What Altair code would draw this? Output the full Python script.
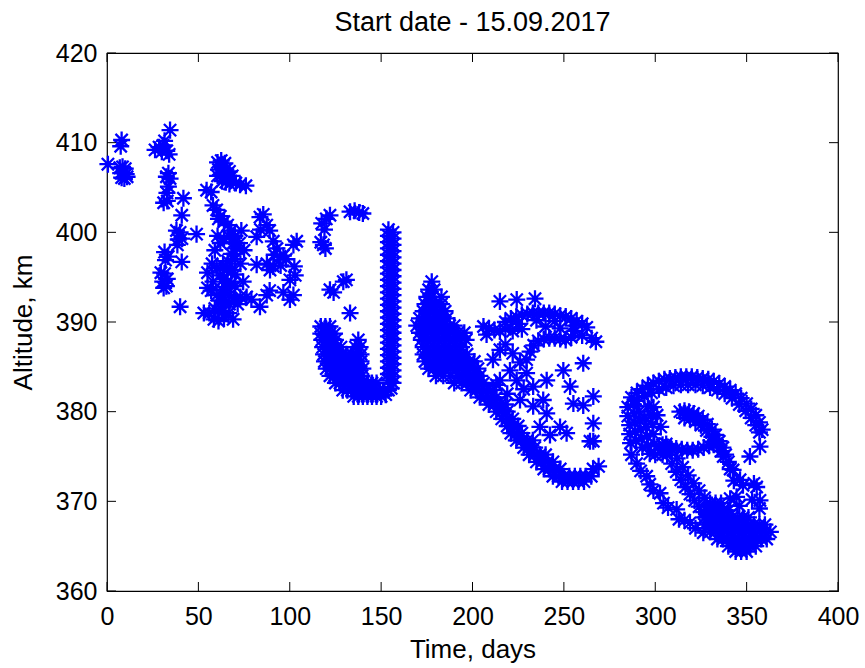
import altair as alt
import pandas as pd

# ---- data (time in days, altitude in km) ----
cluster_a = [(0.5, 407.6), (8.0, 410.3), (7.5, 409.6), (7.0, 407.2), (8.5, 407.3), (10.0, 407.1),
             (7.5, 406.6), (9.0, 406.6), (10.5, 406.5), (8.0, 406.1), (9.5, 406.0), (11.0, 406.2)]

cluster_b = [(34.5, 411.4), (26.3, 409.2), (28.5, 409.5), (30.7, 409.7), (32.7, 409.1), (30.0, 409.0),
             (34.0, 408.7), (31.5, 410.2), (33.6, 406.6), (34.5, 406.0), (32.5, 406.2), (33.6, 405.1),
             (32.8, 404.4), (31.0, 403.3), (33.0, 403.5), (41.8, 403.8), (40.9, 401.9), (38.0, 400.2),
             (40.0, 400.0), (39.0, 399.2), (41.0, 399.3), (38.5, 398.6), (49.0, 399.8), (31.5, 397.8),
             (33.5, 397.3), (32.0, 396.9), (40.9, 396.7), (29.5, 395.5), (31.5, 395.4), (33.0, 394.8),
             (30.5, 394.5), (32.5, 394.0), (31.0, 393.8), (40.0, 391.7)]

cluster_c = [(60.5, 407.8), (62.5, 408.0), (64.5, 407.7), (61.0, 407.0), (63.0, 407.2), (65.0, 407.0),
             (67.0, 406.8), (60.5, 406.3), (62.5, 406.4), (64.5, 406.3), (66.5, 406.1), (68.5, 406.3),
             (63.0, 405.7), (65.0, 405.6), (67.0, 405.4), (70.5, 405.5), (72.8, 405.3), (76.0, 405.2),
             (54.5, 404.7), (57.0, 404.5),
             (58.0, 403.0), (60.0, 402.5), (62.0, 401.8), (64.0, 401.2), (61.0, 401.5), (66.0, 400.8),
             (68.0, 400.2), (70.0, 399.6), (67.0, 399.5), (69.0, 398.8), (71.0, 398.2), (68.0, 397.6),
             (70.0, 397.0), (66.0, 396.8), (63.5, 396.3), (65.5, 395.8), (68.0, 395.8), (70.0, 395.3),
             (62.0, 395.2), (64.0, 394.8), (66.0, 394.5), (68.0, 394.3), (70.0, 394.0), (63.0, 393.6),
             (65.0, 393.3), (67.0, 393.0), (60.0, 393.0), (57.0, 393.5), (55.0, 393.8), (62.0, 392.4),
             (64.5, 392.2), (67.0, 392.0), (69.5, 392.4), (59.0, 391.5), (61.0, 391.2), (63.5, 391.2),
             (56.0, 391.0), (53.0, 391.0), (58.5, 390.3), (61.0, 390.1), (64.0, 390.5), (66.5, 391.0),
             (69.0, 390.3), (71.5, 392.0),
             (55.0, 395.5), (57.5, 396.5), (59.0, 398.0), (73.0, 396.5), (74.5, 394.5), (73.0, 392.8),
             (72.5, 398.8), (58.0, 394.5), (60.0, 396.0), (62.0, 398.8), (64.0, 399.3), (60.5, 399.6),
             (73.5, 400.2), (75.0, 398.0),
             (83.7, 401.7), (85.5, 402.0), (87.4, 400.8), (81.9, 399.5), (84.0, 400.3), (89.0, 400.2),
             (91.0, 399.0), (93.0, 398.2), (94.7, 397.3), (96.5, 397.4), (98.0, 397.0), (91.5, 397.5),
             (81.9, 396.4), (87.5, 396.5), (89.2, 395.8), (91.0, 396.2), (95.0, 396.3), (102.0, 398.6),
             (103.8, 399.0), (100.1, 394.7), (102.5, 396.2), (103.0, 395.2), (87.4, 393.0), (89.0, 393.5),
             (83.7, 391.7), (100.1, 392.5), (102.0, 393.0), (76.4, 392.8), (96.5, 393.3), (79.0, 392.5)]

cluster_d_top = [(117.5, 401.0), (119.0, 400.3), (122.0, 401.9), (120.0, 401.5), (118.4, 398.6), (117.0, 398.9),
                 (119.5, 398.2), (133.0, 402.3), (135.5, 402.4), (138.0, 402.2), (140.0, 402.1), (122.0, 393.6),
                 (124.0, 393.3), (129.3, 394.5), (131.0, 394.7), (133.0, 391.0)]

cluster_d_bulb = [(117.0, 389.5), (119.5, 389.5), (122.0, 389.5),
                  (117.0, 388.7), (119.5, 388.7), (122.0, 388.7), (124.5, 388.7),
                  (117.5, 388.0), (120.0, 388.0), (122.5, 388.0), (125.0, 388.0), (137.5, 388.0),
                  (118.0, 387.2), (120.5, 387.2), (123.0, 387.2), (125.5, 387.2), (128.0, 387.2), (136.0, 387.2), (138.5, 387.2),
                  (118.5, 386.4), (121.0, 386.4), (123.5, 386.4), (126.0, 386.4), (128.5, 386.4), (131.0, 386.4),
                  (134.0, 386.4), (136.5, 386.4), (139.0, 386.4),
                  (119.0, 385.6), (121.5, 385.6), (124.0, 385.6), (126.5, 385.6), (129.0, 385.6), (131.5, 385.6),
                  (134.0, 385.6), (136.5, 385.6), (139.0, 385.6),
                  (120.0, 384.8), (122.5, 384.8), (125.0, 384.8), (127.5, 384.8), (130.0, 384.8), (132.5, 384.8),
                  (135.0, 384.8), (137.5, 384.8), (140.0, 384.8),
                  (122.0, 384.0), (124.5, 384.0), (127.0, 384.0), (129.5, 384.0), (132.0, 384.0), (134.5, 384.0),
                  (137.0, 384.0), (139.5, 384.0),
                  (125.0, 383.2), (127.5, 383.2), (130.0, 383.2), (132.5, 383.2), (135.0, 383.2), (137.5, 383.2),
                  (140.0, 383.2), (142.5, 383.2), (145.0, 383.2), (147.5, 383.2),
                  (129.0, 382.4), (131.5, 382.4), (134.0, 382.4), (136.5, 382.4), (139.0, 382.4), (141.5, 382.4),
                  (144.0, 382.4), (146.5, 382.4), (149.0, 382.4), (151.5, 382.4), (154.0, 382.4),
                  (135.0, 381.7), (137.5, 381.7), (140.0, 381.7), (142.5, 381.7), (145.0, 381.7), (147.5, 381.7),
                  (150.0, 381.7), (152.5, 381.9)]

column_d = [(154.0, 400.3), (156.5, 400.0), (154.0, 399.6), (156.5, 399.3), (154.0, 398.9), (156.5, 398.6),
            (154.0, 398.2), (156.5, 397.9), (154.0, 397.5), (156.5, 397.2), (154.0, 396.8), (156.5, 396.5),
            (154.0, 396.1), (156.5, 395.8), (154.0, 395.4), (156.5, 395.1), (154.0, 394.7), (156.5, 394.4),
            (154.0, 394.0), (156.5, 393.7), (154.0, 393.3), (156.5, 393.0), (154.0, 392.6), (156.5, 392.3),
            (154.0, 391.9), (156.5, 391.6), (154.0, 391.2), (156.5, 390.9), (154.0, 390.5), (156.5, 390.2),
            (154.0, 389.8), (156.5, 389.5), (154.0, 389.1), (156.5, 388.8), (154.0, 388.4), (156.5, 388.1),
            (154.0, 387.7), (156.5, 387.4), (154.0, 387.0), (156.5, 386.7), (154.0, 386.3), (156.5, 386.0),
            (154.0, 385.6), (156.5, 385.3), (154.0, 384.9), (156.5, 384.6), (154.0, 384.2), (156.5, 383.9),
            (154.0, 383.5), (156.5, 383.2), (155.5, 382.6)]

cluster_e_blob = [(177.7, 394.5), (176.0, 393.6), (179.0, 393.6), (175.0, 392.8), (178.0, 392.8), (183.0, 392.8),
                  (174.0, 392.0), (177.0, 392.0), (180.0, 392.0), (183.0, 392.0),
                  (173.0, 391.2), (176.0, 391.2), (179.0, 391.2), (182.0, 391.2), (185.0, 391.2),
                  (171.0, 390.4), (174.0, 390.4), (177.0, 390.4), (180.0, 390.4), (183.0, 390.4), (186.0, 390.4),
                  (169.5, 389.6), (172.5, 389.6), (175.5, 389.6), (178.5, 389.6), (181.5, 389.6), (184.5, 389.6),
                  (187.5, 389.6), (190.0, 389.6),
                  (171.0, 388.8), (174.0, 388.8), (177.0, 388.8), (180.0, 388.8), (183.0, 388.8), (186.0, 388.8),
                  (189.0, 388.8), (192.0, 388.8), (195.5, 388.8),
                  (172.0, 388.0), (175.0, 388.0), (178.0, 388.0), (181.0, 388.0), (184.0, 388.0), (187.0, 388.0),
                  (190.0, 388.0), (193.0, 388.0), (196.5, 388.0),
                  (173.0, 387.2), (176.0, 387.2), (179.0, 387.2), (182.0, 387.2), (185.0, 387.2), (188.0, 387.2),
                  (191.0, 387.2), (194.0, 387.2),
                  (173.0, 386.4), (176.0, 386.4), (179.0, 386.4), (182.0, 386.4), (185.0, 386.4), (188.0, 386.4),
                  (191.0, 386.4), (194.0, 386.4), (197.0, 386.4),
                  (174.0, 385.6), (177.0, 385.6), (180.0, 385.6), (183.0, 385.6), (186.0, 385.6), (189.0, 385.6),
                  (192.0, 385.6), (195.0, 385.6), (198.0, 385.6), (201.0, 385.6),
                  (176.0, 384.8), (179.0, 384.8), (182.0, 384.8), (185.0, 384.8), (188.0, 384.8), (191.0, 384.8),
                  (194.0, 384.8), (197.0, 384.8), (200.0, 384.8), (203.0, 384.8),
                  (180.0, 384.0), (184.0, 384.0), (188.0, 384.0), (192.0, 384.0), (195.0, 384.0), (198.0, 384.0),
                  (201.0, 384.0), (204.0, 384.0),
                  (190.0, 383.2), (194.0, 383.2), (197.0, 383.2), (200.0, 383.2), (203.0, 383.2), (206.0, 383.2)]

cluster_e_band = [(199.0, 382.4), (202.0, 382.4), (205.0, 382.4), (208.0, 382.4), (211.0, 382.4),
                  (204.0, 381.6), (207.0, 381.6), (210.0, 381.6), (213.0, 381.6),
                  (209.0, 380.8), (212.0, 380.8), (215.0, 380.8), (218.0, 380.8),
                  (213.0, 380.0), (216.0, 380.0), (219.0, 380.0),
                  (216.0, 379.2), (219.0, 379.2), (222.0, 379.2),
                  (219.0, 378.4), (222.0, 378.4), (225.0, 378.4),
                  (221.0, 377.6), (224.0, 377.6), (227.0, 377.6),
                  (224.0, 376.8), (227.0, 376.8), (230.0, 376.8), (233.0, 376.8),
                  (228.0, 376.0), (231.0, 376.0), (234.0, 376.0),
                  (231.0, 375.2), (234.0, 375.2), (237.0, 375.2), (240.0, 375.2),
                  (235.0, 374.4), (238.0, 374.4), (241.0, 374.4), (244.0, 374.4),
                  (239.0, 373.6), (242.0, 373.6), (245.0, 373.6), (248.0, 373.6), (266.0, 373.6), (269.0, 373.9),
                  (244.0, 372.8), (247.0, 372.8), (250.0, 372.8), (253.0, 372.8), (256.0, 372.8), (259.0, 372.8),
                  (262.0, 372.8), (265.0, 372.8),
                  (249.0, 372.2), (252.0, 372.2), (255.0, 372.2), (258.0, 372.2), (261.0, 372.2)]

cluster_e_loop = [(215.0, 392.3), (224.2, 392.5), (234.2, 392.6),
                  (218.0, 390.0), (221.0, 390.4), (224.0, 390.6), (227.0, 390.8), (230.0, 390.9), (233.0, 391.0),
                  (236.0, 391.0), (239.0, 391.0), (242.0, 391.0), (245.0, 390.9), (248.0, 390.7), (251.0, 390.6),
                  (254.0, 390.4), (257.0, 390.1), (260.0, 389.8), (262.5, 389.4), (225.0, 389.8), (235.0, 390.2),
                  (245.0, 390.1), (255.0, 389.6),
                  (206.0, 389.5), (209.0, 389.3), (212.0, 389.1), (215.0, 389.0), (218.0, 389.2), (207.7, 388.6),
                  (265.2, 388.2), (267.5, 387.8),
                  (222.0, 389.0), (227.0, 389.2), (240.0, 389.5), (248.0, 389.3), (256.0, 389.0), (260.0, 388.5),
                  (229.6, 385.8), (231.5, 386.7), (233.5, 387.4), (236.0, 387.9), (239.0, 388.1), (242.0, 388.2),
                  (245.0, 388.2), (248.0, 388.1), (251.0, 388.0), (254.0, 388.3),
                  (215.0, 386.9), (211.2, 385.8), (220.5, 384.6), (215.0, 383.5), (224.2, 383.5), (229.6, 384.3),
                  (218.0, 387.5), (222.0, 386.5), (226.0, 385.5), (213.0, 383.0), (219.0, 382.0), (228.0, 382.5),
                  (233.2, 382.8), (226.0, 381.3), (233.2, 380.6), (238.7, 381.3), (240.6, 379.8), (236.9, 378.3),
                  (260.6, 385.4), (249.7, 384.6), (240.6, 383.5), (253.4, 382.8), (266.1, 381.7), (255.2, 380.9),
                  (266.1, 378.7), (251.5, 377.6), (242.4, 377.4), (264.3, 376.7), (260.6, 380.7), (247.9, 378.3),
                  (266.1, 376.7)]

cluster_f_arc = [(287.0, 381.6), (290.0, 382.1), (293.0, 382.5), (296.0, 382.9), (299.0, 383.2), (302.0, 383.4),
                 (305.0, 383.6), (308.0, 383.7), (311.0, 383.8), (314.0, 383.9), (317.0, 383.9), (320.0, 383.9),
                 (323.0, 383.8), (326.0, 383.7), (329.0, 383.6), (332.0, 383.4), (335.0, 383.1), (338.0, 382.8),
                 (341.0, 382.4), (344.0, 382.0), (347.0, 381.5), (350.0, 380.9), (352.5, 380.3), (355.0, 379.6),
                 (357.0, 378.8), (358.5, 378.0),
                 (290.0, 381.2), (294.0, 381.7), (298.0, 382.1), (302.0, 382.5), (306.0, 382.7), (310.0, 382.9),
                 (314.0, 383.0), (318.0, 383.0), (322.0, 383.0), (326.0, 382.9), (330.0, 382.7), (334.0, 382.4),
                 (338.0, 382.0), (342.0, 381.5), (346.0, 380.8), (349.5, 380.1), (352.5, 379.3), (355.0, 378.5),
                 (357.0, 377.7)]

cluster_f_left = [(285.0, 380.5), (285.0, 379.5), (286.0, 378.5), (286.0, 377.5), (286.5, 376.5), (288.0, 380.8),
                  (288.5, 379.8), (289.0, 378.8), (289.0, 377.8), (289.5, 376.8), (291.0, 380.0), (291.5, 379.0),
                  (292.0, 378.0), (292.5, 377.0), (293.0, 376.0), (294.0, 379.3), (295.0, 378.3), (295.5, 377.3),
                  (296.0, 376.2), (297.0, 375.3), (297.5, 379.7), (298.5, 378.6), (299.0, 377.5), (299.5, 376.4),
                  (300.0, 375.2), (302.0, 376.2), (304.0, 375.2), (306.0, 376.4), (303.0, 378.3), (301.0, 379.6),
                  (299.0, 380.5), (296.0, 380.6)]

cluster_f_inner = [(313.5, 380.0), (316.0, 380.1), (318.5, 380.0), (321.0, 379.8), (323.5, 379.5), (326.0, 379.1),
                   (328.5, 378.6), (331.0, 378.0), (333.0, 377.4), (335.0, 376.7), (337.0, 376.0), (338.5, 375.2),
                   (340.0, 374.4), (341.0, 373.6), (316.0, 379.3), (319.0, 379.2), (322.0, 378.9), (325.0, 378.5),
                   (328.0, 377.9), (331.0, 377.2), (333.5, 376.4), (336.0, 375.6),
                   (305.5, 376.0), (308.5, 375.9), (311.5, 375.9), (314.5, 375.8), (317.5, 375.7), (320.5, 375.7),
                   (323.5, 375.8), (326.5, 376.0), (329.5, 376.2), (332.0, 376.3),
                   (304.0, 376.3), (306.5, 375.2), (309.0, 374.2), (311.5, 373.3), (314.0, 372.4), (316.5, 371.6),
                   (319.0, 370.8), (321.5, 370.1), (324.0, 369.4), (326.5, 368.8), (329.0, 368.2),
                   (309.0, 375.8), (312.0, 374.8), (315.0, 373.8), (318.0, 372.9), (321.0, 372.0), (324.0, 371.2),
                   (327.0, 370.4), (330.0, 369.6)]

cluster_f_dots = [(287.0, 375.2), (289.8, 374.2), (292.0, 373.4), (295.3, 372.8), (297.0, 371.9), (299.0, 371.2),
                  (302.6, 370.9), (304.5, 369.8), (307.0, 369.3), (311.7, 369.1), (313.0, 368.0), (316.0, 367.9),
                  (319.0, 367.6), (322.0, 367.0), (326.3, 366.5)]

cluster_f_bottom = [(330.0, 369.8), (333.0, 369.8), (336.0, 369.8),
                    (328.0, 369.0), (331.0, 369.0), (334.0, 369.0), (337.0, 369.0), (340.0, 369.0),
                    (327.0, 368.2), (330.0, 368.2), (333.0, 368.2), (336.0, 368.2), (339.0, 368.2), (342.0, 368.2),
                    (345.0, 368.2), (348.0, 368.2), (351.0, 368.2),
                    (327.0, 367.4), (330.0, 367.4), (333.0, 367.4), (336.0, 367.4), (339.0, 367.4), (342.0, 367.4),
                    (345.0, 367.4), (348.0, 367.4), (351.0, 367.4), (354.0, 367.4), (357.0, 367.4), (360.0, 367.4),
                    (330.0, 366.6), (333.0, 366.6), (336.0, 366.6), (339.0, 366.6), (342.0, 366.6), (345.0, 366.6),
                    (348.0, 366.6), (351.0, 366.6), (354.0, 366.6), (357.0, 366.6), (360.0, 366.6), (363.0, 366.6),
                    (334.0, 365.8), (337.0, 365.8), (340.0, 365.8), (343.0, 365.8), (346.0, 365.8), (349.0, 365.8),
                    (352.0, 365.8), (355.0, 365.8), (358.0, 365.8), (361.0, 365.8),
                    (340.0, 365.0), (343.0, 365.0), (346.0, 365.0), (349.0, 365.0), (352.0, 365.0), (355.0, 365.0),
                    (344.0, 364.4), (347.0, 364.4), (350.0, 364.4)]

cluster_f_right = [(357.3, 376.1), (351.8, 375.0), (346.4, 372.4), (355.5, 371.6), (344.5, 370.5), (357.3, 370.1),
                   (342.6, 373.5), (337.2, 375.0), (343.0, 372.3), (348.0, 371.8), (354.0, 372.0), (341.0, 370.3),
                   (346.0, 369.5), (353.0, 370.2), (357.0, 369.2)]

x_ticks = [0, 50, 100, 150, 200, 250, 300, 350, 400]
y_ticks = [360, 370, 380, 390, 400, 410, 420]

points = (cluster_a + cluster_b + cluster_c + cluster_d_top + cluster_d_bulb + column_d + cluster_e_blob
          + cluster_e_band + cluster_e_loop + cluster_f_arc + cluster_f_left + cluster_f_inner + cluster_f_dots
          + cluster_f_bottom + cluster_f_right)
df = pd.DataFrame(points, columns=["time", "altitude"])

W, H = 731, 538
FONT = "Liberation Sans"
TICK = 9

xscale = alt.Scale(domain=[0, 400], nice=False, zero=False)
yscale = alt.Scale(domain=[360, 420], nice=False, zero=False)

x_axis = alt.Axis(values=x_ticks, title="Time, days", ticks=False, tickSize=0, domain=False,
                  grid=False, labelFlush=False, labelPadding=13, titlePadding=7,
                  labelFontSize=25, titleFontSize=26, labelFont=FONT, titleFont=FONT,
                  titleFontWeight="normal", labelColor="black", titleColor="black")
y_axis = alt.Axis(values=y_ticks, title="Altitude, km", ticks=False, tickSize=0, domain=False,
                  grid=False, labelFlush=False, labelPadding=10, titlePadding=19,
                  labelFontSize=25, titleFontSize=26, labelFont=FONT, titleFont=FONT,
                  titleFontWeight="normal", labelColor="black", titleColor="black")

asterisk = "M-1,0L1,0M0,-1L0,1M-0.72,-0.72L0.72,0.72M-0.72,0.72L0.72,-0.72"

points_layer = alt.Chart(df).mark_point(
    shape=asterisk, filled=False, size=290, strokeWidth=2.3, color="#0000ff", opacity=1
).encode(
    x=alt.X("time:Q", scale=xscale, axis=x_axis),
    y=alt.Y("altitude:Q", scale=yscale, axis=y_axis),
)

xt = pd.DataFrame({"time": x_ticks})
yt = pd.DataFrame({"altitude": y_ticks})

bottom_ticks = alt.Chart(xt).mark_rule(color="black", strokeWidth=1).encode(
    x=alt.X("time:Q", scale=xscale, axis=x_axis), y=alt.value(H), y2=alt.value(H - TICK))
top_ticks = alt.Chart(xt).mark_rule(color="black", strokeWidth=1).encode(
    x=alt.X("time:Q", scale=xscale, axis=x_axis), y=alt.value(0), y2=alt.value(TICK))
left_ticks = alt.Chart(yt).mark_rule(color="black", strokeWidth=1).encode(
    y=alt.Y("altitude:Q", scale=yscale, axis=y_axis), x=alt.value(0), x2=alt.value(TICK))
right_ticks = alt.Chart(yt).mark_rule(color="black", strokeWidth=1).encode(
    y=alt.Y("altitude:Q", scale=yscale, axis=y_axis), x=alt.value(W), x2=alt.value(W - TICK))

chart = alt.layer(points_layer, bottom_ticks, top_ticks, left_ticks, right_ticks).properties(
    width=W, height=H,
    title=alt.TitleParams("Start date - 15.09.2017", fontSize=27, font=FONT, fontWeight="normal",
                          color="black", anchor="middle", frame="group", baseline="alphabetic",
                          offset=23, dy=40),
    autosize=alt.AutoSizeParams(type="none"),
    padding={"left": 107, "top": 53, "right": 27, "bottom": 77},
    background="white",
).configure_view(stroke="black", strokeWidth=1.2)

chart.save("out.html", embed_options={"renderer": "svg", "actions": False})
